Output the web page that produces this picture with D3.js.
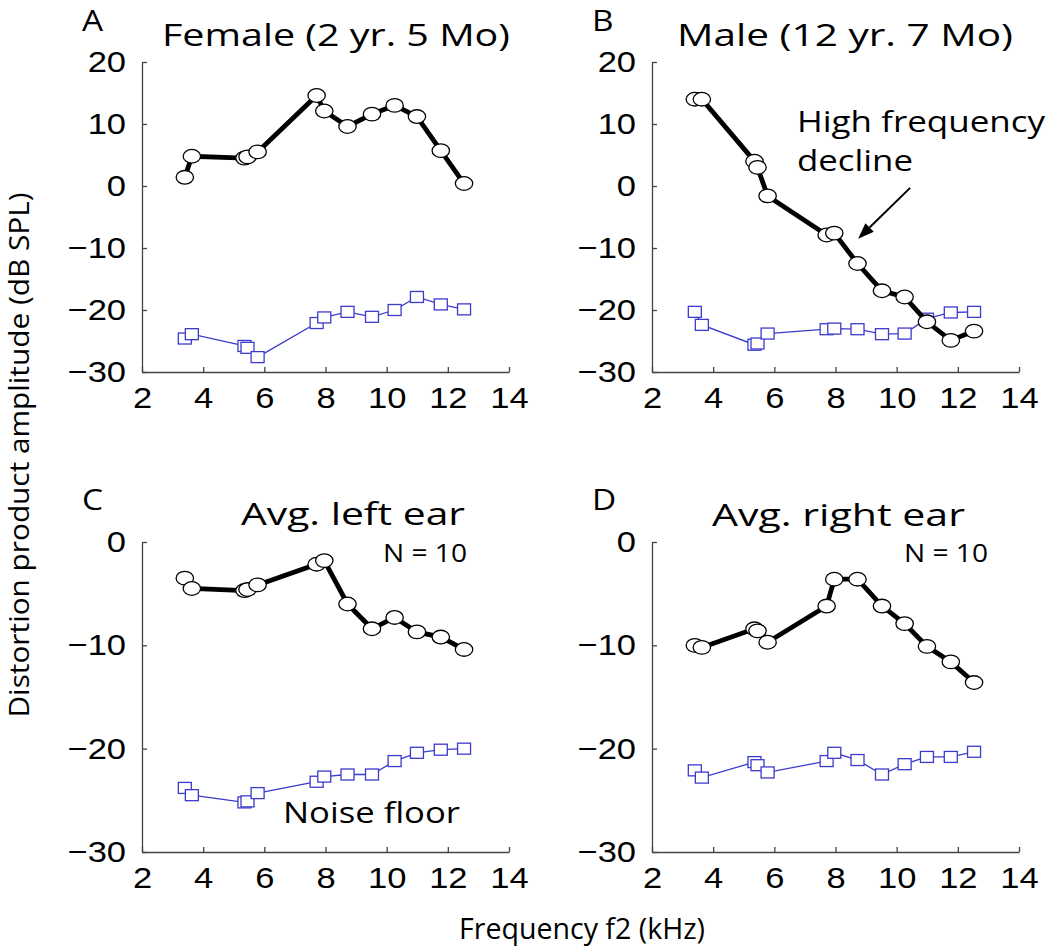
<!DOCTYPE html>
<html>
<head>
<meta charset="utf-8">
<script src="https://cdn.jsdelivr.net/npm/d3@7"></script>
<style>
  body { margin: 0; background: #fff; }
  svg { display: block; font-family: "Open Sans", "DejaVu Sans", sans-serif; }
  .axis path, .axis line { stroke: #444; stroke-width: 1.3; }
  .axis text { font-size: 30px; fill: #000; }
</style>
</head>
<body>
<div class="chart"></div>
<script>
// f2 frequencies (kHz), shared by all panels
const freqKHz = [3.4, 3.63, 5.35, 5.45, 5.78, 7.71, 7.96, 8.72, 9.52, 10.26, 10.99, 11.77, 12.53];

// DP amplitudes and noise floor (dB SPL)
const femaleDP    = [1.4, 4.8, 4.5, 4.7, 5.5, 14.6, 12.1, 9.6, 11.6, 13.0, 11.2, 5.7, 0.4];
const femaleNoise = [-24.6, -23.9, -25.8, -26.1, -27.6, -22.1, -21.2, -20.3, -21.1, -20.0, -17.9, -19.1, -19.9];
const maleDP      = [14.0, 14.0, 4.0, 3.0, -1.6, -7.9, -7.6, -12.5, -16.9, -17.9, -21.9, -24.9, -23.4];
const maleNoise   = [-20.3, -22.4, -25.6, -25.4, -23.8, -23.1, -23.0, -23.1, -23.9, -23.8, -21.4, -20.4, -20.3];
const leftDP      = [-3.5, -4.5, -4.7, -4.6, -4.15, -2.15, -1.8, -6.0, -8.4, -7.3, -8.7, -9.2, -10.4];
const leftNoise   = [-23.8, -24.5, -25.2, -25.1, -24.3, -23.2, -22.7, -22.5, -22.5, -21.2, -20.4, -20.1, -20.0];
const rightDP     = [-10.0, -10.2, -8.4, -8.6, -9.7, -6.2, -3.6, -3.6, -6.2, -7.9, -10.1, -11.6, -13.6];
const rightNoise  = [-22.1, -22.8, -21.3, -21.6, -22.3, -21.2, -20.4, -21.1, -22.5, -21.5, -20.8, -20.8, -20.3];

const xTicks = [2, 4, 6, 8, 10, 12, 14];
const yTicksTop = [-30, -20, -10, 0, 10, 20];
const yTicksBottom = [-30, -20, -10, 0];

const w = 1050;
const h = 947;
const pw = 367;
const ph = 310;
const blue = '#3b3bcc';
const stretch = 1.15;

const panels = [
  { letter: 'A', title: 'Female (2 yr. 5 Mo)', dp: femaleDP, noise: femaleNoise, x0: 142, y0: 62,
    yDomain: [-30, 20], yTicks: yTicksTop, titleX: 162, titleW: 348, titleY: 46, letterY: 31 },
  { letter: 'B', title: 'Male (12 yr. 7 Mo)', dp: maleDP, noise: maleNoise, x0: 652, y0: 62,
    yDomain: [-30, 20], yTicks: yTicksTop, titleX: 677, titleW: 336, titleY: 46, letterY: 31 },
  { letter: 'C', title: 'Avg. left ear', dp: leftDP, noise: leftNoise, x0: 142, y0: 542,
    yDomain: [-30, 0], yTicks: yTicksBottom, titleX: 241, titleW: 224, titleY: 525, letterY: 510, n: 383 },
  { letter: 'D', title: 'Avg. right ear', dp: rightDP, noise: rightNoise, x0: 652, y0: 542,
    yDomain: [-30, 0], yTicks: yTicksBottom, titleX: 712, titleW: 253, titleY: 526, letterY: 510, n: 904 }
];

const svg = d3.select('.chart')
  .append('svg')
  .attr('width', w)
  .attr('height', h);

function widen(sel) {
  sel.each(function() {
    const len = this.getComputedTextLength();
    d3.select(this).attr('textLength', len * stretch).attr('lengthAdjust', 'spacingAndGlyphs');
  });
}

panels.forEach((p) => {
  const xScale = d3.scaleLinear().domain([2, 14]).range([p.x0, p.x0 + pw]);
  const yScale = d3.scaleLinear().domain(p.yDomain).range([p.y0 + ph, p.y0]);

  svg.append('g')
    .attr('class', 'axis')
    .attr('transform', `translate(0, ${p.y0 + ph})`)
    .call(d3.axisBottom(xScale).tickValues(xTicks).tickSizeInner(-5).tickSizeOuter(0).tickPadding(15))
    .call((g) => widen(g.selectAll('text')));

  svg.append('g')
    .attr('class', 'axis')
    .attr('transform', `translate(${p.x0}, 0)`)
    .call(d3.axisLeft(yScale).tickValues(p.yTicks).tickSizeInner(-5).tickSizeOuter(0).tickPadding(16))
    .call((g) => widen(g.selectAll('text')));

  const rows = freqKHz.map((f, i) => ({ f: f, dp: p.dp[i], nf: p.noise[i] }));

  // noise floor
  svg.append('path')
    .datum(rows)
    .attr('fill', 'none')
    .attr('stroke', blue)
    .attr('stroke-width', 1.3)
    .attr('d', d3.line().x((d) => xScale(d.f)).y((d) => yScale(d.nf)));

  svg.append('g')
    .selectAll('rect')
    .data(rows)
    .join('rect')
    .attr('x', (d) => xScale(d.f) - 6.5)
    .attr('y', (d) => yScale(d.nf) - 5.5)
    .attr('width', 13)
    .attr('height', 11)
    .attr('fill', '#fff')
    .attr('stroke', blue)
    .attr('stroke-width', 1.3);

  // distortion product
  svg.append('path')
    .datum(rows)
    .attr('fill', 'none')
    .attr('stroke', '#000')
    .attr('stroke-width', 4.8)
    .attr('d', d3.line().x((d) => xScale(d.f)).y((d) => yScale(d.dp)));

  svg.append('g')
    .selectAll('ellipse')
    .data(rows)
    .join('ellipse')
    .attr('cx', (d) => xScale(d.f))
    .attr('cy', (d) => yScale(d.dp))
    .attr('rx', 8.7)
    .attr('ry', 6.8)
    .attr('fill', '#fff')
    .attr('stroke', '#000')
    .attr('stroke-width', 1.3);

  svg.append('text')
    .attr('x', p.x0 - 60)
    .attr('y', p.letterY)
    .attr('font-size', 29)
    .text(p.letter)
    .call(widen);

  svg.append('text')
    .attr('x', p.titleX)
    .attr('y', p.titleY)
    .attr('font-size', 31)
    .attr('textLength', p.titleW)
    .attr('lengthAdjust', 'spacingAndGlyphs')
    .text(p.title);

  if (p.n) {
    svg.append('text')
      .attr('x', p.n)
      .attr('y', 562)
      .attr('font-size', 25)
      .attr('textLength', 84)
      .attr('lengthAdjust', 'spacingAndGlyphs')
      .text('N = 10');
  }

  if (p.letter === 'B') {
    svg.append('text')
      .attr('x', 797).attr('y', 132)
      .attr('font-size', 30)
      .attr('textLength', 248).attr('lengthAdjust', 'spacingAndGlyphs')
      .text('High frequency');
    svg.append('text')
      .attr('x', 797).attr('y', 171)
      .attr('font-size', 30)
      .attr('textLength', 116).attr('lengthAdjust', 'spacingAndGlyphs')
      .text('decline');

    const x1 = xScale(10.44), y1 = yScale(-0.3);
    const x2 = xScale(8.74), y2 = yScale(-8.5);
    const ang = Math.atan2(y2 - y1, x2 - x1);
    const hl = 16, hw = 6;
    const bx = x2 - hl * Math.cos(ang), by = y2 - hl * Math.sin(ang);
    svg.append('line')
      .attr('x1', x1).attr('y1', y1).attr('x2', bx).attr('y2', by)
      .attr('stroke', '#000').attr('stroke-width', 2);
    svg.append('path')
      .attr('d', `M${x2},${y2}L${bx + hw * Math.sin(ang)},${by - hw * Math.cos(ang)}L${bx - hw * Math.sin(ang)},${by + hw * Math.cos(ang)}Z`)
      .attr('fill', '#000');
  }

  if (p.letter === 'C') {
    svg.append('text')
      .attr('x', 283).attr('y', 823)
      .attr('font-size', 30)
      .attr('textLength', 177).attr('lengthAdjust', 'spacingAndGlyphs')
      .text('Noise floor');
  }
});

svg.append('text')
  .attr('transform', 'translate(29, 455) rotate(-90)')
  .attr('text-anchor', 'middle')
  .attr('font-size', 27)
  .attr('textLength', 525)
  .attr('lengthAdjust', 'spacingAndGlyphs')
  .text('Distortion product amplitude (dB SPL)');

svg.append('text')
  .attr('x', 459)
  .attr('y', 939)
  .attr('font-size', 29)
  .attr('textLength', 246)
  .attr('lengthAdjust', 'spacingAndGlyphs')
  .text('Frequency f2 (kHz)');
</script>
</body>
</html>
